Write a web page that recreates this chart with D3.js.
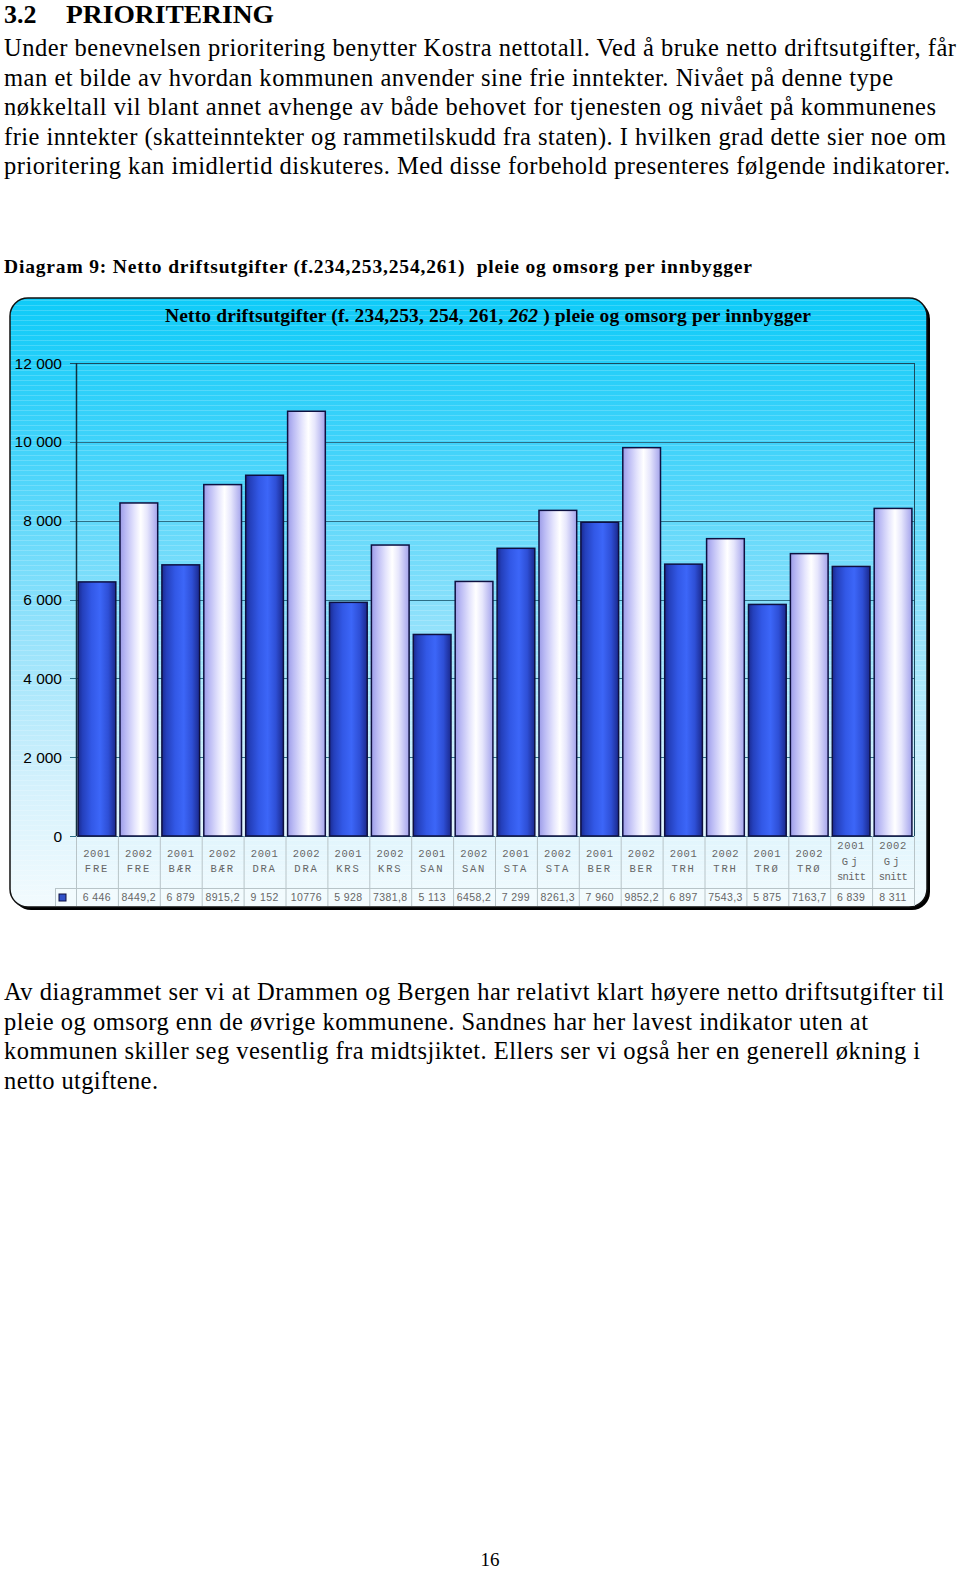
<!DOCTYPE html>
<html>
<head>
<meta charset="utf-8">
<script src="https://cdn.jsdelivr.net/npm/d3@7"></script>
<style>
  html, body { margin: 0; padding: 0; background: #fff; }
  svg { display: block; }
</style>
</head>
<body>
<svg id="page" width="960" height="1570"></svg>
<script>
// ---------- DATA ----------
const years = ["2001","2002","2001","2002","2001","2002","2001","2002","2001","2002","2001","2002","2001","2002","2001","2002","2001","2002","2001","2002"];
const codes = ["FRE","FRE","BÆR","BÆR","DRA","DRA","KRS","KRS","SAN","SAN","STA","STA","BER","BER","TRH","TRH","TRØ","TRØ","Gj snitt","Gj snitt"];
const values = [6446, 8449.2, 6879, 8915.2, 9152, 10776, 5928, 7381.8, 5113, 6458.2, 7299, 8261.3, 7960, 9852.2, 6897, 7543.3, 5875, 7163.7, 6839, 8311];
const valueLabels = ["6 446","8449,2","6 879","8915,2","9 152","10776","5 928","7381,8","5 113","6458,2","7 299","8261,3","7 960","9852,2","6 897","7543,3","5 875","7163,7","6 839","8 311"];
const yTicks = [0, 2000, 4000, 6000, 8000, 10000, 12000];

const heading = ["3.2", "PRIORITERING"];
const introLines = [
  "Under benevnelsen prioritering benytter Kostra nettotall. Ved å bruke netto driftsutgifter, får",
  "man et bilde av hvordan kommunen anvender sine frie inntekter. Nivået på denne type",
  "nøkkeltall vil blant annet avhenge av både behovet for tjenesten og nivået på kommunenes",
  "frie inntekter (skatteinntekter og rammetilskudd fra staten). I hvilken grad dette sier noe om",
  "prioritering kan imidlertid diskuteres. Med disse forbehold presenteres følgende indikatorer."
];
const introWidths = [952, 889, 932, 942, 946];
const captionText = "Diagram 9: Netto driftsutgifter (f.234,253,254,261)  pleie og omsorg per innbygger";
const chartTitleParts = ["Netto driftsutgifter (f. 234,253, 254, 261, ", "262", " ) pleie og omsorg per innbygger"];
const outroLines = [
  "Av diagrammet ser vi at Drammen og Bergen har relativt klart høyere netto driftsutgifter til",
  "pleie og omsorg enn de øvrige kommunene. Sandnes har her lavest indikator uten at",
  "kommunen skiller seg vesentlig fra midtsjiktet. Ellers ser vi også her en generell økning i",
  "netto utgiftene."
];
const outroWidths = [940, 864, 916, 154];
const pageNumber = "16";

// ---------- DRAW ----------
const svg = d3.select("#page");
const serif = "'Liberation Serif', 'Times New Roman', serif";
const sans = "'Liberation Sans', Arial, sans-serif";
const mono = "'Liberation Mono', 'Courier New', monospace";

svg.append("rect").attr("width", 960).attr("height", 1570).attr("fill", "#fff");

// Heading
const h = svg.append("text").attr("y", 23).attr("font-family", serif)
  .attr("font-weight", "bold").attr("font-size", 26).attr("fill", "#000");
h.append("tspan").attr("x", 4).text(heading[0]);
h.append("tspan").attr("x", 66).attr("textLength", 208).attr("lengthAdjust", "spacingAndGlyphs").text(heading[1]);

// Intro paragraph
svg.selectAll("text.intro").data(introLines).join("text")
  .attr("class", "intro")
  .attr("x", 4).attr("y", (d, i) => 56 + i * 29.6)
  .attr("font-family", serif).attr("font-size", 24.5).attr("fill", "#000")
  .attr("textLength", (d, i) => introWidths[i]).attr("lengthAdjust", "spacing")
  .text(d => d);

// Caption
svg.append("text").attr("x", 4).attr("y", 273)
  .attr("font-family", serif).attr("font-weight", "bold").attr("font-size", 19.5)
  .attr("textLength", 748).attr("lengthAdjust", "spacing")
  .attr("xml:space", "preserve").style("white-space", "pre")
  .text(captionText);

// ---------- Chart box ----------
const defs = svg.append("defs");
const bg = defs.append("linearGradient").attr("id", "bgGrad").attr("x1", 0).attr("y1", 0).attr("x2", 0).attr("y2", 1);
bg.append("stop").attr("offset", "0%").attr("stop-color", "#0ecbf8");
bg.append("stop").attr("offset", "25%").attr("stop-color", "#42d3fa");
bg.append("stop").attr("offset", "55%").attr("stop-color", "#95e2fb");
bg.append("stop").attr("offset", "80%").attr("stop-color", "#d4f1fc");
bg.append("stop").attr("offset", "100%").attr("stop-color", "#f3fbfe");

const stripes = defs.append("pattern").attr("id", "stripes").attr("patternUnits", "userSpaceOnUse")
  .attr("width", 10).attr("height", 5);
stripes.append("rect").attr("x", 0).attr("y", 0).attr("width", 10).attr("height", 1).attr("fill", "#ffffff").attr("opacity", 0.18);

const darkG = defs.append("linearGradient").attr("id", "darkBar").attr("x1", 0).attr("y1", 0).attr("x2", 1).attr("y2", 0);
[["0%", "#1a2a90"], ["12%", "#2440bc"], ["35%", "#3258e6"], ["58%", "#3c66f8"], ["80%", "#2e4fd6"], ["100%", "#1a288c"]]
  .forEach(s => darkG.append("stop").attr("offset", s[0]).attr("stop-color", s[1]));
const lightG = defs.append("linearGradient").attr("id", "lightBar").attr("x1", 0).attr("y1", 0).attr("x2", 1).attr("y2", 0);
[["0%", "#9c9ce8"], ["15%", "#babaf4"], ["38%", "#e4e4fd"], ["55%", "#ffffff"], ["72%", "#e6e6fc"], ["100%", "#a4a4ec"]]
  .forEach(s => lightG.append("stop").attr("offset", s[0]).attr("stop-color", s[1]));

const box = { x: 10, y: 298, w: 917, h: 609, r: 18 };
// shadow
svg.append("rect").attr("x", box.x + 3).attr("y", box.y + 3).attr("width", box.w).attr("height", box.h)
  .attr("rx", box.r).attr("fill", "#000");
svg.append("rect").attr("x", box.x).attr("y", box.y).attr("width", box.w).attr("height", box.h)
  .attr("rx", box.r).attr("fill", "url(#bgGrad)");
svg.append("rect").attr("x", box.x).attr("y", box.y).attr("width", box.w).attr("height", box.h)
  .attr("rx", box.r).attr("fill", "url(#stripes)");
svg.append("rect").attr("x", box.x).attr("y", box.y).attr("width", box.w).attr("height", box.h)
  .attr("rx", box.r).attr("fill", "none").attr("stroke", "#111").attr("stroke-width", 1.5);

// Chart title
const t = svg.append("text").attr("x", 165).attr("y", 322)
  .attr("font-family", serif).attr("font-weight", "bold").attr("font-size", 19.5).attr("fill", "#000")
  .attr("textLength", 646).attr("lengthAdjust", "spacing")
  .attr("xml:space", "preserve").style("white-space", "pre");
t.append("tspan").text(chartTitleParts[0]);
t.append("tspan").attr("font-style", "italic").text(chartTitleParts[1]);
t.append("tspan").text(chartTitleParts[2]);

// Scales
const plot = { left: 76, right: 914, top: 363, bottom: 836 };
const x = d3.scaleBand().domain(d3.range(values.length)).range([plot.left, plot.right])
  .paddingInner(0.1).paddingOuter(0.05);
const y = d3.scaleLinear().domain([0, 12000]).range([plot.bottom, plot.top]);
const loc = d3.formatLocale({ decimal: ",", thousands: "\u00a0", grouping: [3], currency: ["", ""] });
const fmt = loc.format(",d");

// Gridlines
svg.append("g").selectAll("line").data(yTicks).join("line")
  .attr("x1", plot.left - 6).attr("x2", plot.right)
  .attr("y1", d => Math.round(y(d)) + 0.5).attr("y2", d => Math.round(y(d)) + 0.5)
  .attr("stroke", d => d === 12000 ? "#1b4a5e" : "#2d6f86").attr("stroke-width", 1);
// right border & left axis
svg.append("line").attr("x1", plot.right + 0.5).attr("x2", plot.right + 0.5).attr("y1", plot.top).attr("y2", plot.bottom)
  .attr("stroke", "#1b4a5e").attr("stroke-width", 1);
svg.append("line").attr("x1", plot.left + 0.5).attr("x2", plot.left + 0.5).attr("y1", plot.top).attr("y2", plot.bottom)
  .attr("stroke", "#12303e").attr("stroke-width", 1.5);

// Y tick labels
svg.append("g").selectAll("text").data(yTicks).join("text")
  .attr("x", 62).attr("y", d => y(d) + 5.5).attr("text-anchor", "end")
  .attr("font-family", sans).attr("font-size", 15.5).attr("fill", "#000")
  .text(d => fmt(d));

// Bars
svg.append("g").selectAll("rect").data(values).join("rect")
  .attr("x", (d, i) => x(i)).attr("width", x.bandwidth())
  .attr("y", d => y(d)).attr("height", d => y(0) - y(d))
  .attr("fill", (d, i) => years[i] === "2001" ? "url(#darkBar)" : "url(#lightBar)")
  .attr("stroke", "#0e1040").attr("stroke-width", 1.5);

// Data table
const step = x.step();
const colX = i => plot.left + i * step;
const tbl = svg.append("g");
tbl.append("rect").attr("x", 55).attr("y", 888).attr("width", plot.right - 55).attr("height", 18)
  .attr("fill", "#f4fbfe").attr("opacity", 0.6);
tbl.selectAll("line.v").data(d3.range(values.length + 1)).join("line")
  .attr("class", "v")
  .attr("x1", i => colX(i) + 0.5).attr("x2", i => colX(i) + 0.5)
  .attr("y1", plot.bottom).attr("y2", 906)
  .attr("stroke", "#b8c4c8").attr("stroke-width", 1);
tbl.append("line").attr("x1", 55).attr("x2", plot.right).attr("y1", 888.5).attr("y2", 888.5)
  .attr("stroke", "#b8c4c8");
tbl.append("line").attr("x1", 55.5).attr("x2", 55.5).attr("y1", 888).attr("y2", 906)
  .attr("stroke", "#b8c4c8");
// legend key
tbl.append("rect").attr("x", 59).attr("y", 894).attr("width", 7).attr("height", 7)
  .attr("fill", "#3050c8").attr("stroke", "#0e1040").attr("stroke-width", 1);

// category labels
values.forEach((v, i) => {
  const cx = colX(i) + step / 2;
  const parts = codes[i].split(" ");
  const lines = [years[i]].concat(parts);
  const y0 = lines.length === 3 ? 849 : 857;
  const ls = lines.length === 3 ? 15.5 : 15;
  lines.forEach((ln, k) => {
    let sp = k === 0 ? 0.6 : 1.8;
    if (lines.length === 3 && k === 1) sp = 3;
    if (lines.length === 3 && k === 2) sp = -0.6;
    tbl.append("text").attr("x", cx).attr("y", y0 + k * ls).attr("text-anchor", "middle")
      .attr("font-family", mono).attr("font-size", 10.5).attr("fill", "#666")
      .attr("letter-spacing", sp)
      .text(ln);
  });
  tbl.append("text").attr("x", cx).attr("y", 901).attr("text-anchor", "middle")
    .attr("font-family", sans).attr("font-size", 10.5).attr("fill", "#666")
    .attr("letter-spacing", 0.4)
    .text(valueLabels[i]);
});

// Outro paragraph
svg.selectAll("text.outro").data(outroLines).join("text")
  .attr("class", "outro")
  .attr("x", 4).attr("y", (d, i) => 1000 + i * 29.6)
  .attr("font-family", serif).attr("font-size", 24.5).attr("fill", "#000")
  .attr("textLength", (d, i) => outroWidths[i]).attr("lengthAdjust", "spacing")
  .text(d => d);

// Page number
svg.append("text").attr("x", 490).attr("y", 1566).attr("text-anchor", "middle")
  .attr("font-family", serif).attr("font-size", 19).text(pageNumber);
</script>
</body>
</html>
